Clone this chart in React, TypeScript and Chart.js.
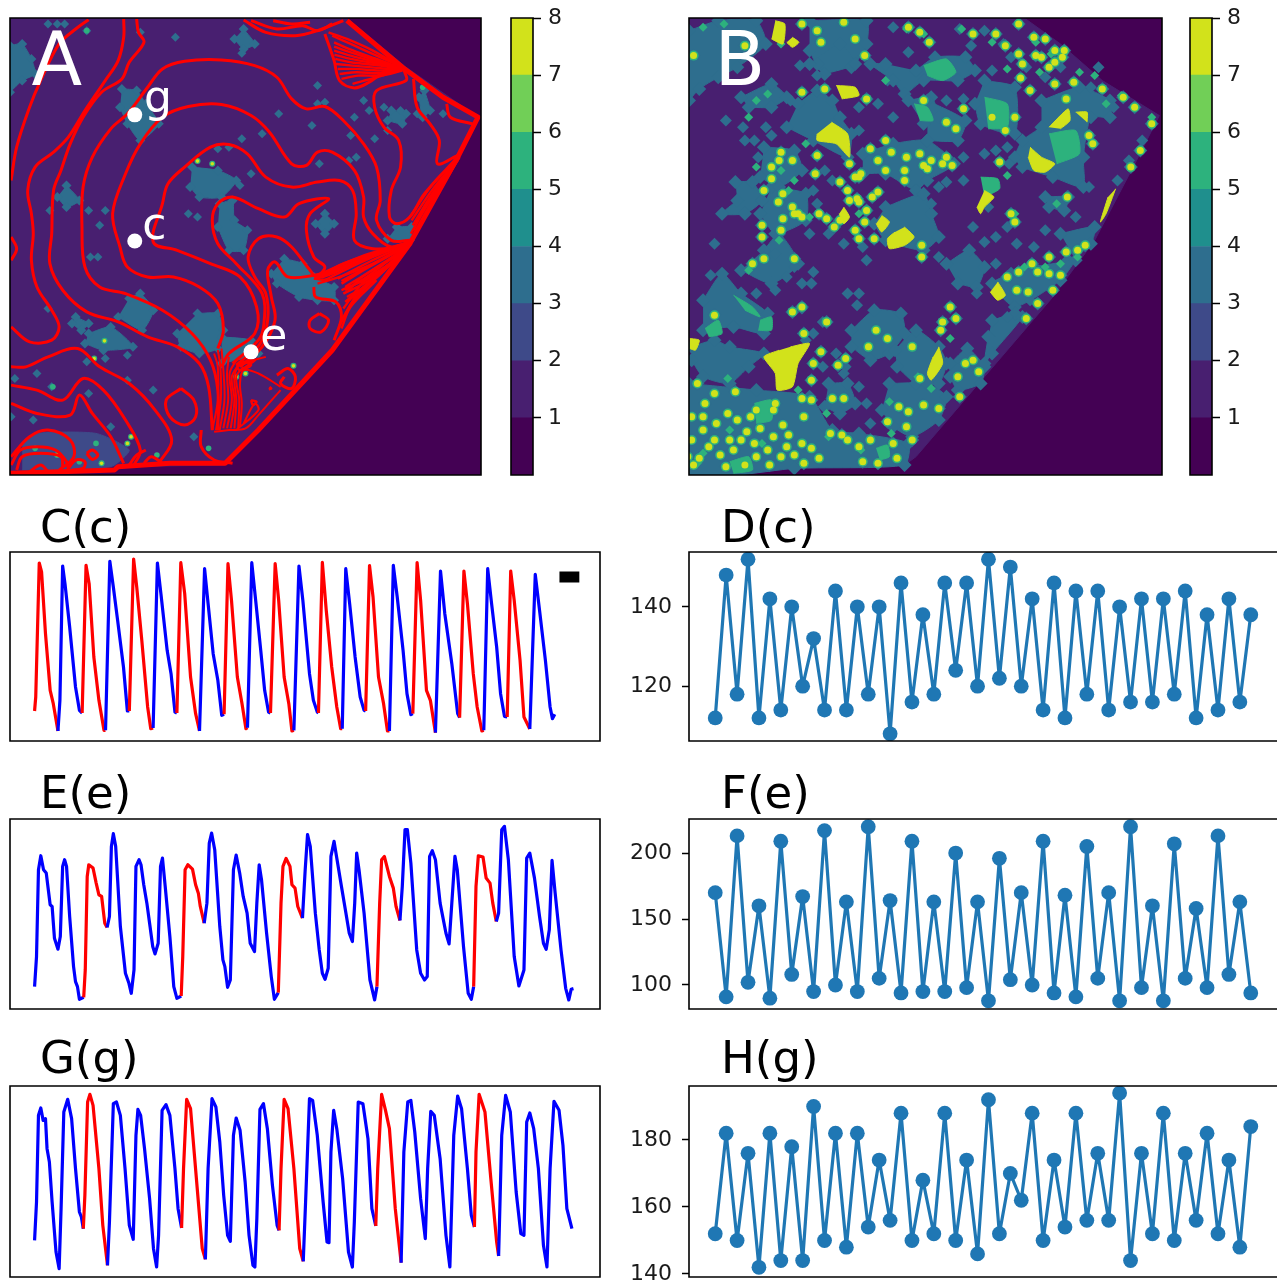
import React, { useEffect, useRef } from "react";
import { Chart, registerables } from "chart.js";

Chart.register(...registerables);

const FONT = "'DejaVu Sans'";
const levelColors = ["#440154", "#481f70", "#3e4a89", "#2e6e8e", "#1f8f8d", "#2db27d", "#71cf57", "#d2e21b"];
const colorbarLevels = [1, 2, 3, 4, 5, 6, 7, 8];

/* ---------- Traces C, E, G: x,y pairs (plot units) ---------- */
const traceC = [90,632,93,590,102,188,108,215,118,400,130,570,138,610,150,692,155,600,162,197,168,250,180,380,195,560,205,630,212,638,222,195,230,250,242,470,255,600,268,690,272,690,283,183,292,260,303,360,318,500,328,632,333,632,344,176,352,260,365,420,380,620,388,685,394,683,405,188,414,280,430,450,440,520,450,635,455,638,465,187,475,280,490,530,503,640,513,692,526,205,535,310,548,460,560,540,570,645,576,642,586,190,595,300,610,530,622,610,632,685,636,682,647,187,657,300,670,450,680,570,690,635,695,638,707,190,716,300,730,530,742,610,750,692,755,690,768,197,778,300,795,520,805,600,815,635,818,638,828,186,838,330,852,500,865,620,875,685,879,685,888,205,898,310,912,470,925,590,935,630,939,632,949,196,958,290,972,530,985,610,995,692,1000,692,1010,195,1020,290,1035,450,1045,580,1055,643,1060,640,1071,187,1080,300,1095,570,1105,600,1118,697,1131,212,1142,340,1160,490,1175,640,1180,652,1191,212,1200,310,1215,520,1225,620,1237,692,1242,690,1252,205,1262,310,1275,440,1285,580,1295,648,1302,650,1311,212,1320,300,1335,480,1345,650,1360,686,1374,222,1385,330,1400,480,1412,620,1418,655,1424,642];
const redC = [[90,150],[212,272],[333,394],[455,513],[576,636],[695,755],[818,879],[939,1000],[1060,1118],[1180,1242],[1302,1360]];
const traceE = [90,650,95,560,100,300,106,258,113,300,120,310,130,405,135,410,141,505,150,538,156,500,162,290,167,270,172,290,180,440,190,590,195,635,200,650,205,688,216,682,220,600,225,320,229,285,240,295,248,340,255,375,262,380,270,460,276,473,282,440,287,230,292,192,298,230,310,470,323,610,332,640,338,670,345,600,350,290,358,270,363,285,370,345,378,400,385,460,393,530,399,552,407,520,413,290,418,265,425,350,437,500,447,650,455,685,466,678,470,560,476,300,483,285,495,298,503,345,510,370,515,410,525,460,532,400,538,220,544,190,552,240,565,470,573,570,578,590,585,652,592,630,600,300,607,256,616,310,625,380,635,430,643,520,654,545,660,400,666,285,672,330,685,490,697,620,705,688,715,668,722,400,727,290,735,266,745,290,750,345,758,355,765,410,777,445,784,300,790,195,797,230,810,430,820,540,828,610,835,628,843,595,850,260,858,215,865,265,877,350,887,420,897,490,905,515,911,400,916,250,922,300,935,430,950,630,962,690,968,650,975,400,980,270,987,260,1000,320,1010,355,1017,410,1027,452,1033,350,1040,180,1046,180,1055,280,1070,540,1080,610,1090,630,1097,620,1103,260,1110,243,1118,270,1130,400,1145,490,1153,522,1160,400,1168,260,1174,300,1190,530,1202,670,1210,688,1216,650,1222,350,1228,258,1240,262,1248,325,1258,340,1265,400,1274,455,1280,430,1288,180,1295,170,1305,270,1320,560,1332,648,1345,600,1352,265,1360,250,1372,325,1385,440,1395,520,1402,538,1410,480,1417,272,1425,370,1440,540,1452,655,1460,690,1466,658,1472,656];
const redE = [[216,276],[466,525],[715,777],[968,1027],[1216,1274]];
const traceG = [90,615,95,500,100,240,106,218,112,255,118,250,122,340,128,380,135,500,145,650,153,700,158,520,165,230,175,192,185,250,195,400,205,530,210,545,215,580,219,480,226,200,232,177,240,210,255,400,265,570,277,690,282,560,292,205,300,200,310,240,322,400,333,570,343,612,350,300,355,222,362,240,372,340,385,490,395,640,403,695,408,600,417,225,427,208,437,240,450,400,458,520,467,578,472,400,480,192,490,220,505,430,520,640,528,672,535,400,545,190,555,215,565,320,575,480,585,600,592,618,600,300,607,248,617,285,630,440,640,600,650,690,655,695,660,550,668,222,677,205,687,280,700,450,712,570,717,585,722,400,730,192,740,220,755,400,770,640,779,678,785,500,795,190,803,195,815,300,830,500,840,620,845,622,850,350,857,225,865,280,880,430,895,650,905,695,910,560,920,200,932,205,945,310,955,520,965,572,970,400,980,177,990,225,1000,280,1015,520,1030,682,1037,350,1047,200,1055,195,1065,290,1080,490,1092,610,1098,400,1106,228,1115,240,1130,370,1145,600,1155,695,1165,300,1175,182,1185,220,1200,400,1210,540,1218,575,1222,350,1230,177,1245,230,1260,430,1275,620,1280,662,1288,300,1298,180,1310,230,1325,470,1337,595,1345,600,1352,260,1360,233,1370,280,1382,400,1395,630,1404,695,1412,400,1422,198,1435,225,1445,330,1455,520,1468,580];
const redG = [[215,277],[467,528],[717,779],[965,1030],[1218,1280]];
const scaleBarC = [1436,230,1487,230];

/* ---------- Series D, F, H ---------- */
const valuesD = [112,148,118,152,112,142,114,140,120,132,114,144,114,140,118,140,108,146,116,138,118,146,124,146,120,152,122,150,120,142,114,146,112,144,118,144,114,140,116,142,116,142,118,144,112,138,114,142,116,138];
const valuesF = [170,91,213,102,160,90,209,108,167,95,217,100,163,95,220,105,164,94,209,95,163,95,200,98,163,88,196,104,170,100,209,94,168,91,205,105,170,88,220,98,160,88,207,105,158,98,213,108,163,94];
const valuesH = [152,182,150,176,142,182,144,178,144,190,150,182,148,182,154,174,156,188,150,168,152,188,150,174,146,192,152,170,162,188,150,174,154,188,156,176,156,194,144,176,152,188,150,176,156,182,152,174,148,184];
const ticksD = [120, 140];
const ticksF = [100, 150, 200];
const ticksH = [140, 160, 180];

/* ---------- Map A: outlines, patches, dots, contours (map units) ---------- */
const studyAreaA = [27,52,940,52,1100,200,1295,350,1240,470,1110,730,900,1050,610,1395,320,1400,27,1425];
const patchesA3 = [
  [27,135,60,130,85,175,95,220,60,240,27,275],
  [330,265,370,270,395,310,430,370,380,420,345,370,325,320],
  [660,85,690,130,660,145,635,115],
  [180,555,215,600,180,620,155,590],
  [350,895,380,880,415,930,385,990,320,950],
  [535,940,590,940,605,990,590,1045,540,1060,490,1040,480,1000],
  [600,1010,680,1020,700,1060,600,1090],
  [770,775,820,790,850,830,905,860,905,900,860,900,810,890,750,850,735,820],
  [880,640,905,670,880,700,855,670],
  [240,1000,300,980,360,1040,280,1050,230,1030],
  [205,950,240,970,220,990,195,970],
  [595,610,630,600,635,660,670,690,660,750,620,750,590,680],
  [520,500,590,510,640,540,600,590,540,590,515,560],
  [1060,330,1100,340,1090,370,1050,360],
  [1150,270,1165,330,1145,350,1135,290],
  [1075,680,1115,680,1110,720,1050,715],
];
const patchesA2 = [[60,1330,100,1300,260,1300,350,1350,300,1400,60,1410]];
const dotsA3 = [[235,90],[130,70],[155,70],[175,70],[475,110],[380,95],[655,158],[860,255],[860,310],[880,305],[755,340],[845,375],[710,400],[655,415],[985,300],[1000,330],[960,350],[1040,320],[1015,415],[950,405],[965,470],[945,480],[865,490],[1050,390],[135,630],[240,630],[285,630],[270,675],[265,770],[245,770],[130,925],[100,1120],[40,1135],[140,1160],[240,1180],[345,1140],[415,1170],[235,1085],[285,1075],[345,1065],[525,1310],[90,1260],[300,1280],[30,1250],[1085,330],[1130,340],[1200,340],[650,555],[680,520],[510,640],[535,650],[620,440],[590,445]];
const dotsA5 = [[235,90],[143,1160],[1145,260],[260,1330],[425,1365],[565,1345],[95,1345],[215,1385]];
const dotsA7 = [[535,482],[575,490],[283,1022],[255,1075],[665,1120],[795,1097],[345,1330],[155,1365],[275,1390],[640,1130],[355,1310]];
const contoursA = [
  [30,540,45,440,80,320,110,240,160,130,205,85,240,57],
  [335,55,335,110,320,180,285,240,230,330,185,410,145,455,95,500,75,570,85,640,90,700,85,780,100,860,140,930,160,980,140,1020,80,1025,30,980],
  [370,55,375,95,390,125,350,185,330,235,275,275,225,350,190,430,165,510,145,570,140,700,135,790,170,870,235,935,320,965,400,1010,480,1040,540,1090,565,1160,575,1290],
  [590,1290,590,1170,570,1080,520,1000,440,930,340,880,270,860,230,800,222,680,225,560,250,470,300,385,345,340,400,260,440,205,500,182,600,178,690,195,750,230,790,295,830,325,880,318,930,360,985,430,1020,500,1030,600,1020,660,1060,720,1110,720],
  [590,1045,605,990,590,910,540,860,470,830,400,830,345,800,325,740,305,640,340,520,380,430,440,350,510,318,600,312,680,345,730,395,790,490,830,495,860,455,900,455,960,510,985,590,985,650,1010,700,1060,740,1110,725],
  [600,1100,620,1060,690,1000,695,920,650,830,570,790,480,750,415,725,440,610,455,550,500,500,570,440,620,432,670,460,720,530,790,560,860,545,920,540,955,570,965,640,960,720,1010,745,1090,740],
  [630,1090,700,1020,715,970,710,880,640,790,590,730,575,660,590,610,630,590,700,625,770,650,810,610,890,595,840,640,830,690,850,770,880,800,860,830],
  [640,1095,705,1030,725,960,720,880,690,830,672,770,700,715,750,710,790,740,840,810,860,830,920,795,1010,760,1100,730],
  [650,1100,710,1040,745,960,735,890,725,810,745,785,780,830,850,825,900,810,1000,770],
  [30,710,45,745,30,780],
  [30,1100,70,1100,130,1070,210,1045,270,1100,350,1150,420,1230,465,1320,430,1390],
  [30,1155,100,1170,170,1200,225,1135,280,1170,340,1260,380,1350,360,1400],
  [30,1210,100,1240,190,1245,215,1185,250,1240,300,1310,335,1390],
  [30,1370,80,1310,130,1290,190,1320,200,1370,160,1410],
  [45,1410,60,1370,110,1360,165,1370,170,1400],
  [80,1415,110,1395,130,1415],
  [30,1395,55,1350,100,1340,150,1350,180,1385,185,1410],
  [185,1405,205,1380,230,1385,225,1405,195,1410],
  [350,1395,370,1365,395,1350],
  [490,1165,525,1200,530,1250,500,1275,460,1250,450,1200,490,1165],
  [865,940,890,960,870,995,840,985,840,960,865,940],
  [545,1290,545,1340,580,1380,630,1390],
  [750,1125,780,1105,800,1130,790,1165,760,1150,770,1130],
  [850,860,855,890,910,905,925,950,905,1020],
  [1095,210,1100,240,1020,270,1015,320,1040,380,1080,420,1085,500,1060,570,1055,650,1075,670,1110,650,1150,580,1240,470],
  [1120,235,1130,320,1165,370,1190,420,1185,490,1240,465],
  [1210,310,1220,350,1280,370],
  [390,1390,410,1370,440,1390],
  [235,1360,250,1350,265,1365,250,1378,235,1360],
  [660,58,720,95,800,105,860,90,930,60],
  [680,60,750,85,820,75,860,90,900,70],
  [740,60,790,70,840,65],
  [880,100,905,180,920,240,960,262,1000,245,1040,215,1090,205],
];
const fansA = [
  [1090,200,1020,165,950,130,900,105],[1090,203,1020,175,945,145,905,125],[1090,205,1020,185,950,165,905,150],[1090,207,1030,195,950,185,908,175],[1090,208,1030,210,960,205,915,205],[1090,210,1030,225,970,225,925,235],[1090,205,1020,230,955,250],[1090,202,1010,150,940,115,890,95],[1090,204,1020,180,950,155,905,138],[1090,206,1025,190,950,175,906,162],[1090,208,1030,203,955,195,910,190],[1090,209,1030,218,965,215,920,220],
  [1110,725,1000,760,920,795,880,815,850,828],[1110,725,1000,765,900,815,860,835],[1110,728,1000,775,905,825,880,838,850,835],[1110,730,1010,790,920,830,860,850],[1115,730,1020,820,925,870],[1100,745,1000,840,930,880],[1080,770,1000,850,940,890],[1060,790,990,860,945,900],[1050,800,970,880,925,960],[1040,810,960,900,920,975],[1090,745,1000,800,925,850],[1100,735,1000,785,915,835],[1105,740,1000,815,935,860],[1085,760,980,830,945,870],[1070,780,985,845,930,925],[1110,727,1000,770,900,820,870,832],[1108,733,1005,795,925,842],[1095,742,1000,825,935,870],[1075,775,990,855,935,905],[1045,805,965,890,922,968],[1020,840,950,920,925,985],
  [1120,690,1150,620,1240,470],[1115,660,1170,570,1240,475],[1110,650,1180,540,1240,480],[1120,710,1170,610,1245,470],[1125,670,1160,600,1235,480],[1118,675,1165,590,1240,472],[1113,700,1160,610,1238,478],
  [730,1160,735,1165,728,1168],[680,1200,695,1205,685,1215,680,1200],[640,1100,660,1085,680,1095,650,1110,640,1100],[650,1095,690,1080,660,1105],
];
const southFanA = [
  [575,1290,590,1200,590,1100,580,1060],[585,1290,598,1200,597,1100,590,1050],[595,1290,608,1200,605,1110,600,1045],[605,1285,618,1200,615,1120,620,1070],[615,1285,628,1200,622,1120,640,1080],[625,1285,635,1200,628,1130,650,1088],[635,1285,640,1200,635,1130,650,1095,720,1070],[645,1285,648,1200,640,1130,660,1100],[650,1280,655,1210,650,1150,660,1110,700,1120,760,1160],[660,1270,690,1210,700,1230,640,1290],[580,1295,620,1290,665,1285,700,1245,760,1170],
];
const edgeA = [27,1420,310,1410,320,1400,460,1390,610,1390,700,1290,900,1050,1110,730,1240,470,1295,350,1200,290,1090,200,940,60];
const pointsA = [[365,343],[365,722],[680,1055]];

/* ---------- Map B ---------- */
const studyAreaB = [23,52,905,52,1000,130,1110,240,1260,345,1200,480,1090,720,980,890,620,1370,590,1395,300,1405,150,1425,23,1425];
const patchesB3 = [
  [23,90,100,60,200,60,225,130,150,200,100,230,50,265,23,300],
  [340,60,490,60,490,130,450,200,360,190,340,150],
  [620,210,670,170,750,170,775,210,730,240,640,240,590,280,560,240,500,190,540,190],
  [800,240,880,260,880,400,790,370,775,310],
  [310,310,360,270,400,300,420,350,450,400,440,470,350,420,280,380],
  [160,290,240,250,280,290,240,320,180,320],
  [950,300,1050,260,1130,300,1130,350,1080,350,1060,470,1060,560,980,530,900,500,880,470,900,420,950,380],
  [480,460,560,430,650,420,720,490,650,540,620,570,540,520,480,520],
  [600,300,660,290,680,350,640,370],
  [540,620,640,580,660,640,680,710,640,750,540,720,510,670],
  [145,545,190,545,215,600,170,640,110,640,150,600],
  [700,790,760,750,800,800,780,860,730,850],
  [1000,700,1090,680,1080,730,1020,780,930,800,870,820,820,850,880,920,1000,840,1040,780],
  [60,900,110,820,160,880,230,940,220,1000,140,980,60,990],
  [30,1040,90,1020,130,1040,220,1060,180,1100,130,1150,60,1130,30,1080],
  [450,990,510,930,580,940,590,1000,550,1060,500,1080,450,1040],
  [565,1050,620,990,680,1040,700,1090,680,1150,620,1150,570,1100],
  [710,1090,755,1045,800,1100,790,1150,730,1170,710,1130],
  [820,960,880,940,900,950,820,1060,800,1090,810,1010],
  [390,1150,440,1150,460,1210,420,1240,380,1220],
  [550,1150,650,1150,700,1190,680,1260,610,1310,560,1280,530,1230],
  [23,1150,200,1170,340,1190,400,1290,470,1300,600,1330,590,1395,300,1405,150,1425,23,1425],
  [220,750,260,700,310,790,240,850,160,810],
  [240,560,330,580,330,660,250,700,210,640],
  [220,440,300,450,320,510,260,560,210,530],
  [650,300,750,360,730,420,650,420],
  [960,590,1020,590,1010,630,970,620],
  [340,190,420,130,460,190,380,220],
];
const patchesB5 = [
  [640,195,700,175,725,215,690,240,650,225],
  [800,290,860,310,860,380,810,385],
  [970,400,1040,390,1050,460,990,490],
  [790,530,835,535,840,565,800,590],
  [615,310,650,320,665,360,630,360],
  [65,985,100,960,110,1000,75,1010],
  [195,1210,240,1200,240,1260,200,1270],
  [515,1345,545,1335,550,1370,525,1380],
  [140,885,190,920,210,950,170,930],
  [130,1385,180,1370,190,1410,140,1420],
  [210,960,240,950,240,990,205,990],
];
const patchesB7 = [
  [410,255,460,260,470,285,425,295],
  [398,365,440,400,445,470,410,430,360,420,360,400],
  [970,380,1020,325,1025,360,1000,385],
  [1040,335,1070,335,1070,365],
  [920,440,950,470,985,490,960,515,930,510,915,470],
  [800,570,825,590,800,620,790,640,780,620],
  [530,645,550,665,530,695,515,670],
  [590,680,615,710,590,735,550,745,545,715,565,695],
  [835,845,855,885,835,900,815,875],
  [290,1040,340,1030,310,1090,295,1160,255,1170,250,1120,220,1070,260,1050],
  [680,1040,690,1090,660,1140,650,1120,665,1070],
  [1145,565,1120,640,1105,665,1125,590],
  [250,60,275,70,270,130,240,115],
  [295,110,312,125,295,140,280,125],
  [430,620,445,650,430,670,418,640],
  [25,1015,50,1020,40,1050,25,1045],
];
const dotsB3 = [[120,360],[165,380],[240,405],[170,420],[205,470],[90,730],[80,825],[820,210],[765,135],[735,85],[560,80],[600,155],[545,240],[745,295],[700,545],[745,540],[865,490],[830,710],[885,730],[800,725],[930,740],[440,880],[470,880],[465,915],[350,815],[320,850],[780,880],[680,770],[490,780],[320,925],[375,965],[410,1060],[435,1100],[375,1100],[345,850],[300,800],[225,380],[195,420],[315,195],[360,225],[290,300],[470,320],[520,310],[470,390],[560,350],[700,300],[745,470],[800,460],[860,440],[830,450],[380,510],[350,570],[400,540],[360,610],[250,760],[280,830],[340,700],[390,700],[430,730],[480,740],[1100,200],[1080,260],[1000,200],[960,230],[910,200],[870,170],[850,130],[800,90],[1140,320],[680,560],[660,610],[830,790],[920,900],[860,950],[200,880],[250,870],[330,1020],[350,1000],[430,1120],[470,1160],[490,1210],[500,1270],[810,620],[770,680],[860,680],[960,690],[1040,650],[1075,560],[1150,540],[1180,480],[1215,420]];
const dotsB5 = [[60,80],[115,70],[230,280],[200,300],[180,350],[265,130],[540,240],[595,85],[640,100],[740,85],[820,125],[860,205],[935,125],[1090,225],[1050,215],[1160,285],[1120,310],[945,215],[975,160],[330,430],[200,500],[265,510],[300,540],[260,720],[180,810],[285,570],[340,650],[470,640],[880,640],[990,610],[1000,790],[960,800],[1045,770],[905,800],[710,1015],[625,1130],[550,1205],[660,1165],[385,1240],[125,1135],[310,1170],[390,1310],[215,1330],[60,1360],[130,1290],[475,1350],[555,1300],[45,1390],[1240,350],[860,525]];
const dotsB7 = [[320,70],[430,65],[360,90],[370,125],[170,135],[35,165],[485,165],[460,115],[630,95],[655,125],[600,80],[770,100],[830,100],[890,70],[930,110],[985,150],[1005,170],[935,165],[895,232],[920,270],[1035,245],[985,250],[1165,290],[1195,320],[1240,370],[1210,450],[1185,500],[380,265],[320,275],[490,295],[640,300],[745,325],[700,365],[725,385],[820,350],[855,390],[880,350],[1015,295],[1075,405],[1085,430],[540,420],[555,455],[595,470],[630,460],[640,495],[715,495],[650,505],[840,485],[590,510],[445,490],[470,530],[420,545],[265,455],[260,480],[295,480],[240,535],[220,570],[258,605],[295,620],[320,650],[365,640],[385,655],[405,680],[490,630],[445,600],[465,595],[505,590],[520,575],[485,665],[460,690],[470,715],[510,715],[215,675],[270,655],[635,735],[635,770],[220,775],[300,775],[190,790],[1015,755],[1045,750],[1065,735],[970,770],[925,790],[890,815],[860,830],[970,820],[1000,825],[940,815],[915,875],[885,870],[980,870],[940,910],[910,955],[1018,590],[870,640],[880,665],[710,920],[690,965],[725,955],[685,990],[515,990],[545,1015],[495,1040],[295,935],[320,920],[325,1000],[90,945],[350,1090],[345,1140],[370,1055],[435,1075],[415,1095],[385,965],[730,1130],[735,1190],[630,1135],[610,1040],[750,1090],[770,1080],[785,1115],[400,1195],[430,1195],[600,1235],[680,1225],[595,1280],[640,1215],[575,1220],[545,1265],
  [30,1250],[45,1150],[65,1210],[95,1270],[60,1290],[30,1320],[35,1395],[75,1340],[105,1365],[140,1350],[150,1260],[125,1240],[185,1250],[175,1295],[210,1285],[245,1230],[270,1275],[245,1310],[285,1305],[320,1330],[325,1250],[280,1340],[230,1350],[200,1370],[170,1395],[120,1400],[90,1320],[50,1375],[160,1320],[265,1370],[300,1365],[345,1345],[395,1300],[425,1305],[365,1375],[325,1390],[440,1320],[470,1340],[480,1385],[520,1390],[570,1375],[610,1320],[500,1320],[560,1330],[145,1175],[320,1195],[345,1200],[250,1210],[90,1180],[200,1230],[20,1370],[235,1395],[60,1250],[130,1320],[195,1330],
  [1010,150],[985,185],[960,115],[950,170],[970,200],[890,160],[900,190],[855,135],[1110,265],[240,500],[355,520],[270,580],[310,640],[265,690],[215,710],[300,640],[360,465],[440,570],[420,660],[470,605],[460,530],[520,480],[500,445],[475,520],[540,510],[590,540],[690,490],[700,470],[660,480]];

/* ---------- helpers ---------- */
const pairs = (flat) => {
  const out = [];
  for (let i = 0; i + 1 < flat.length; i += 2) out.push({ x: flat[i], y: flat[i + 1] });
  return out;
};
const xy = (list) => list.map(([x, y]) => ({ x, y }));

const framePlugin = (noRight = false) => ({
  id: "frame",
  afterDatasetsDraw(chart) {
    const { ctx, chartArea: a } = chart;
    ctx.save();
    ctx.strokeStyle = "#000";
    ctx.lineWidth = 1.6;
    ctx.beginPath();
    if (noRight) {
      ctx.moveTo(a.right + 3, a.top);
      ctx.lineTo(a.left, a.top);
      ctx.lineTo(a.left, a.bottom);
      ctx.lineTo(a.right + 3, a.bottom);
    } else {
      ctx.rect(a.left, a.top, a.right - a.left, a.bottom - a.top);
    }
    ctx.stroke();
    ctx.restore();
  },
});

// text placed relative to the plot area (titles) or in data units (map letters)
const textPlugin = (labels) => ({
  id: "panelText",
  afterDraw(chart) {
    const { ctx, chartArea: a, scales } = chart;
    ctx.save();
    ctx.textBaseline = "alphabetic";
    ctx.textAlign = "left";
    for (const l of labels) {
      ctx.font = `${l.size}px ${FONT}`;
      ctx.fillStyle = l.color;
      const px = l.data ? scales.x.getPixelForValue(l.x) : a.left + l.x;
      const py = l.data ? scales.y.getPixelForValue(l.y) : a.top + l.y;
      ctx.fillText(l.text, px, py);
    }
    ctx.restore();
  },
});

const darkBackground = {
  id: "darkBackground",
  beforeDatasetsDraw(chart) {
    const { ctx, chartArea: a } = chart;
    ctx.save();
    ctx.fillStyle = levelColors[0];
    ctx.fillRect(a.left, a.top, a.right - a.left, a.bottom - a.top);
    ctx.restore();
  },
};

// keep the plot area exactly where the layout padding puts it
const fixAxisWidth = (width) => (s) => {
  s.width = width;
  s.paddingTop = 0;
  s.paddingBottom = 0;
  s.paddingLeft = 0;
  s.paddingRight = 0;
};

const hiddenAxis = (min, max, reverse = false) => ({ type: "linear", display: false, min, max, reverse });

const baseOptions = (padding, scales) => ({
  responsive: false,
  animation: false,
  events: [],
  layout: { autoPadding: false, padding },
  plugins: { legend: { display: false }, tooltip: { enabled: false }, title: { display: false } },
  scales,
});

const polygon = (flat, level, tension = 0.2) => ({
  data: pairs(flat),
  showLine: true,
  fill: "shape",
  backgroundColor: levelColors[level],
  borderColor: levelColors[level],
  borderWidth: 1,
  pointRadius: 0,
  tension,
});
// diamond-shaped cells along a patch outline give it the reference's stepped edge
const patchCells = (flat, level, radius) => ({
  data: pairs(flat),
  showLine: false,
  pointStyle: "rectRot",
  pointRadius: radius,
  pointBackgroundColor: levelColors[level],
  pointBorderWidth: 0,
});
const dots = (list, level, radius, style) => ({
  data: xy(list),
  showLine: false,
  pointStyle: style,
  pointRadius: radius,
  pointBackgroundColor: levelColors[level],
  pointBorderWidth: 0,
});
const contour = (flat, width = 3, tension = 0.35) => ({
  data: pairs(flat),
  showLine: true,
  fill: false,
  borderColor: "#ff0000",
  borderWidth: width,
  borderJoinStyle: "round",
  pointRadius: 0,
  tension,
});

const mapConfig = (layers, xr, yr, labels) => ({
  type: "scatter",
  data: { datasets: layers.slice().reverse() },
  options: baseOptions(
    { left: 10, top: 18, right: 10, bottom: 15 },
    { x: hiddenAxis(xr[0], xr[1]), y: hiddenAxis(yr[0], yr[1], true) }
  ),
  plugins: [darkBackground, framePlugin(), textPlugin(labels)],
});

const mapALayers = [
  polygon(studyAreaA, 1, 0),
  ...patchesA2.map((p) => polygon(p, 2)),
  ...patchesA3.map((p) => polygon(p, 3)),
  ...patchesA3.map((p) => patchCells(p, 3, 5)),
  dots(dotsA3, 3, 4.5, "rectRot"),
  dots(dotsA5, 5, 2.8, "circle"),
  dots(dotsA7, 5, 3, "circle"),
  dots(dotsA7, 7, 1.8, "circle"),
  ...contoursA.map((c) => contour(c)),
  ...fansA.map((c) => contour(c, 2.4)),
  ...southFanA.map((c) => contour(c, 2)),
  contour(edgeA, 5, 0),
  { data: xy(pointsA), showLine: false, pointStyle: "circle", pointRadius: 7.5, pointBackgroundColor: "#fff", pointBorderWidth: 0 },
];
const mapBLayers = [
  polygon(studyAreaB, 1, 0),
  ...patchesB3.map((p) => polygon(p, 3)),
  ...patchesB3.map((p) => patchCells(p, 3, 7)),
  dots(dotsB3, 3, 6, "rectRot"),
  dots(dotsB7, 3, 7, "rectRot"),
  ...patchesB5.map((p) => polygon(p, 5)),
  dots(dotsB5, 5, 4.5, "rectRot"),
  dots(dotsB7, 5, 5, "circle"),
  ...patchesB7.map((p) => polygon(p, 7)),
  dots(dotsB7, 7, 3.5, "circle"),
];

const colorbarConfig = () => ({
  type: "bar",
  data: {
    labels: [""],
    datasets: colorbarLevels.map((_, i) => ({
      data: [1],
      backgroundColor: levelColors[i],
      stack: "levels",
      barPercentage: 1,
      categoryPercentage: 1,
      borderWidth: 0,
    })),
  },
  options: baseOptions(
    { left: 6, top: 18, right: 0, bottom: 15 },
    {
      x: { display: false, stacked: true },
      y: {
        stacked: true,
        position: "right",
        min: 0,
        max: 8,
        afterFit: fixAxisWidth(42),
        afterBuildTicks: (s) => { s.ticks = colorbarLevels.map((value) => ({ value })); },
        border: { display: false },
        grid: { drawOnChartArea: false, tickLength: 8, tickColor: "#000", tickWidth: 1.5 },
        ticks: { padding: 7, color: "#1a1a1a", font: { family: FONT, size: 22 }, autoSkip: false, maxRotation: 0 },
      },
    }
  ),
  plugins: [framePlugin()],
});

const traceConfig = (trace, redRanges, title, extra) => ({
  type: "scatter",
  data: {
    datasets: [
      ...(extra || []),
      {
        data: pairs(trace),
        showLine: true,
        fill: false,
        borderWidth: 3.2,
        borderColor: "#0000ff",
        borderJoinStyle: "round",
        pointRadius: 0,
        tension: 0,
        segment: {
          borderColor: (c) =>
            redRanges.some(([a, b]) => c.p0.parsed.x >= a && c.p1.parsed.x <= b) ? "#ff0000" : "#0000ff",
        },
      },
    ],
  },
  options: baseOptions(
    { left: 10, top: 62, right: 10, bottom: 10 },
    { x: hiddenAxis(27, 1540), y: hiddenAxis(title.top, title.bottom, true) }
  ),
  plugins: [framePlugin(), textPlugin([{ text: title.text, x: 30, y: title.y, size: 45, color: "#000" }])],
});

const seriesConfig = (values, tickValues, yMin, yMax, title) => ({
  type: "scatter",
  data: {
    datasets: [
      {
        data: values.map((y, x) => ({ x, y })),
        showLine: true,
        fill: false,
        borderColor: "#1f77b4",
        borderWidth: 3.2,
        borderJoinStyle: "round",
        pointStyle: "circle",
        pointRadius: 7.4,
        pointBackgroundColor: "#1f77b4",
        pointBorderWidth: 0,
      },
    ],
  },
  options: baseOptions(
    { left: 0, top: 62, right: 3, bottom: 10 },
    {
      x: { type: "linear", display: false, min: -2.4, max: 51.4 },
      y: {
        type: "linear",
        min: yMin,
        max: yMax,
        afterFit: fixAxisWidth(69),
        afterBuildTicks: (s) => { s.ticks = tickValues.map((value) => ({ value })); },
        border: { display: false },
        grid: { drawOnChartArea: false, tickLength: 7, tickColor: "#000", tickWidth: 1.5 },
        ticks: { padding: 10, color: "#1a1a1a", font: { family: FONT, size: 22 }, autoSkip: false, maxRotation: 0 },
      },
    }
  ),
  plugins: [framePlugin(true), textPlugin([{ text: title.text, x: 32, y: title.y, size: 45, color: "#000" }])],
});

function ChartCanvas({ left, top, width, height, makeConfig }) {
  const ref = useRef(null);
  useEffect(() => {
    const chart = new Chart(ref.current, makeConfig());
    return () => chart.destroy();
  }, []);
  return (
    <canvas
      ref={ref}
      width={width}
      height={height}
      style={{ position: "absolute", left, top, width, height, filter: "blur(0.55px)" }}
    />
  );
}

const scaleBar = {
  data: pairs(scaleBarC),
  showLine: true,
  fill: false,
  borderColor: "#000",
  borderWidth: 11,
  borderCapStyle: "butt",
  pointRadius: 0,
};

const panels = [
  { left: 0, top: 0, width: 491, height: 490, makeConfig: () => mapConfig(mapALayers, [27, 1303], [52, 1425], [
      { text: "A", x: 85, y: 252, size: 74, color: "#fff", data: true },
      { text: "g", x: 390, y: 335, size: 44, color: "#fff", data: true },
      { text: "c", x: 385, y: 715, size: 44, color: "#fff", data: true },
      { text: "e", x: 705, y: 1050, size: 44, color: "#fff", data: true },
    ]) },
  { left: 505, top: 0, width: 70, height: 490, makeConfig: colorbarConfig },
  { left: 679, top: 0, width: 493, height: 490, makeConfig: () => mapConfig(mapBLayers, [23, 1267], [52, 1425], [
      { text: "B", x: 90, y: 252, size: 74, color: "#fff", data: true },
    ]) },
  { left: 1184, top: 0, width: 70, height: 490, makeConfig: colorbarConfig },
  { left: 0, top: 490, width: 610, height: 261, makeConfig: () => traceConfig(traceC, redC, { text: "C(c)", y: -10, top: 155, bottom: 722 }, [scaleBar]) },
  { left: 0, top: 757, width: 610, height: 262, makeConfig: () => traceConfig(traceE, redE, { text: "E(e)", y: -11, top: 148, bottom: 717 }) },
  { left: 0, top: 1024, width: 610, height: 263, makeConfig: () => traceConfig(traceG, redG, { text: "G(g)", y: -13, top: 152, bottom: 725 }) },
  { left: 620, top: 490, width: 660, height: 261, makeConfig: () => seriesConfig(valuesD, ticksD, 106.2, 153.8, { text: "D(c)", y: -10 }) },
  { left: 620, top: 757, width: 660, height: 262, makeConfig: () => seriesConfig(valuesF, ticksF, 81.8, 225.8, { text: "F(e)", y: -11 }) },
  { left: 620, top: 1024, width: 660, height: 263, makeConfig: () => seriesConfig(valuesH, ticksH, 139.1, 196.1, { text: "H(g)", y: -13 }) },
];

export default function App() {
  return (
    <div style={{ position: "absolute", left: 0, top: 0, width: 1277, height: 1285, overflow: "hidden", background: "#fff" }}>
      {panels.map((p, i) => (
        <ChartCanvas key={i} {...p} />
      ))}
    </div>
  );
}
